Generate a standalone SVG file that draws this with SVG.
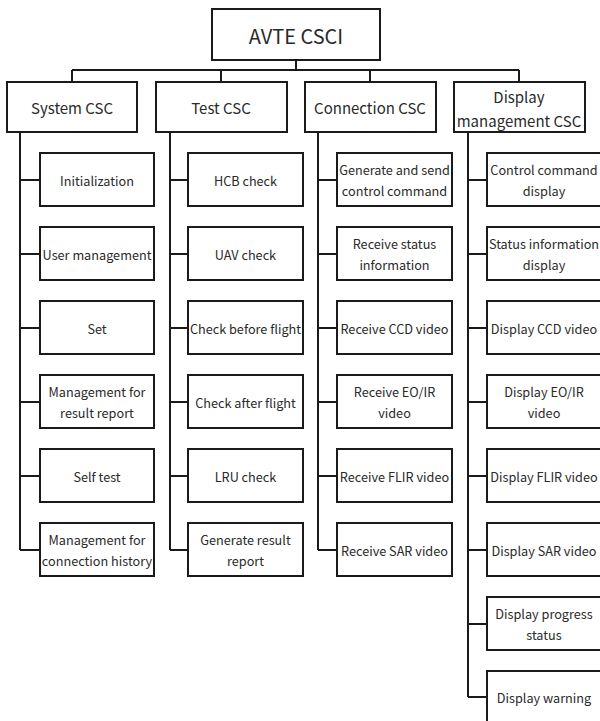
<svg xmlns="http://www.w3.org/2000/svg" width="600" height="721" viewBox="0 0 600 721">
<style>
  .box { fill: #ffffff; stroke: #1a1a1a; stroke-width: 2; }
  .ln { fill: none; stroke: #1a1a1a; stroke-width: 2; }
  text { font-family: "Noto Sans CJK KR", "Noto Sans", sans-serif; fill: #2a2a2a; text-anchor: middle; dominant-baseline: central; }
  .t0 { font-size: 20px; }
  .t1 { font-size: 15px; }
  .t2 { font-size: 12.7px; }
</style>
<rect width="600" height="721" fill="#ffffff"/>
<g id="connectors">
  <path class="ln" d="M296,60 V70 M72,70 H519 M72,70 V82 M221,70 V82 M370,70 V82 M519,70 V82"/>
  <path class="ln" d="M20,132 V550 M20,180 H40 M20,254 H40 M20,328 H40 M20,402 H40 M20,476 H40 M20,550 H40"/>
  <path class="ln" d="M170,132 V550 M170,180 H188 M170,254 H188 M170,328 H188 M170,402 H188 M170,476 H188 M170,550 H188"/>
  <path class="ln" d="M318,132 V550 M318,180 H337 M318,254 H337 M318,328 H337 M318,402 H337 M318,476 H337 M318,550 H337"/>
  <path class="ln" d="M468,132 V697 M468,180 H487 M468,254 H487 M468,328 H487 M468,402 H487 M468,476 H487 M468,550 H487 M468,624 H487 M468,697 H487"/>
</g>
<g id="root"><rect class="box" x="212" y="9" width="168" height="51"/><text class="t0" x="296" y="35">AVTE CSCI</text></g>
<g id="system-csc"><rect class="box" x="7" y="82" width="130" height="50"/><text class="t1" x="72" y="107">System CSC</text></g>
<g id="test-csc"><rect class="box" x="156" y="82" width="131" height="50"/><text class="t1" x="221" y="107">Test CSC</text></g>
<g id="connection-csc"><rect class="box" x="305" y="82" width="131" height="50"/><text class="t1" x="370" y="107">Connection CSC</text></g>
<g id="display-csc"><rect class="box" x="454" y="82" width="131" height="50"/><text class="t1" x="519" y="96">Display</text><text class="t1" x="519" y="120">management CSC</text></g>

<g id="s1"><rect class="box" x="40" y="153" width="114" height="53"/><text class="t2" x="97" y="180">Initialization</text></g>
<g id="s2"><rect class="box" x="40" y="227" width="114" height="53"/><text class="t2" x="97" y="254">User management</text></g>
<g id="s3"><rect class="box" x="40" y="301" width="114" height="53"/><text class="t2" x="97" y="328">Set</text></g>
<g id="s4"><rect class="box" x="40" y="375" width="114" height="53"/><text class="t2" x="97" y="391.5">Management for</text><text class="t2" x="97" y="412.5">result report</text></g>
<g id="s5"><rect class="box" x="40" y="449" width="114" height="53"/><text class="t2" x="97" y="476">Self test</text></g>
<g id="s6"><rect class="box" x="40" y="523" width="114" height="53"/><text class="t2" x="97" y="539.5">Management for</text><text class="t2" x="97" y="560.5">connection history</text></g>

<g id="t1"><rect class="box" x="188" y="153" width="115" height="53"/><text class="t2" x="245.5" y="180">HCB check</text></g>
<g id="t2"><rect class="box" x="188" y="227" width="115" height="53"/><text class="t2" x="245.5" y="254">UAV check</text></g>
<g id="t3"><rect class="box" x="188" y="301" width="115" height="53"/><text class="t2" x="245.5" y="328">Check before flight</text></g>
<g id="t4"><rect class="box" x="188" y="375" width="115" height="53"/><text class="t2" x="245.5" y="402">Check after flight</text></g>
<g id="t5"><rect class="box" x="188" y="449" width="115" height="53"/><text class="t2" x="245.5" y="476">LRU check</text></g>
<g id="t6"><rect class="box" x="188" y="523" width="115" height="53"/><text class="t2" x="245.5" y="539.5">Generate result</text><text class="t2" x="245.5" y="560.5">report</text></g>

<g id="c1"><rect class="box" x="337" y="153" width="115" height="53"/><text class="t2" x="394.5" y="169.5">Generate and send</text><text class="t2" x="394.5" y="190.5">control command</text></g>
<g id="c2"><rect class="box" x="337" y="227" width="115" height="53"/><text class="t2" x="394.5" y="243.5">Receive status</text><text class="t2" x="394.5" y="264.5">information</text></g>
<g id="c3"><rect class="box" x="337" y="301" width="115" height="53"/><text class="t2" x="394.5" y="328">Receive CCD video</text></g>
<g id="c4"><rect class="box" x="337" y="375" width="115" height="53"/><text class="t2" x="394.5" y="391.5">Receive EO/IR</text><text class="t2" x="394.5" y="412.5">video</text></g>
<g id="c5"><rect class="box" x="337" y="449" width="115" height="53"/><text class="t2" x="394.5" y="476">Receive FLIR video</text></g>
<g id="c6"><rect class="box" x="337" y="523" width="115" height="53"/><text class="t2" x="394.5" y="550">Receive SAR video</text></g>

<g id="d1"><rect class="box" x="487" y="153" width="115" height="53"/><text class="t2" x="544" y="169.5">Control command</text><text class="t2" x="544" y="190.5">display</text></g>
<g id="d2"><rect class="box" x="487" y="227" width="115" height="53"/><text class="t2" x="544" y="243.5">Status information</text><text class="t2" x="544" y="264.5">display</text></g>
<g id="d3"><rect class="box" x="487" y="301" width="115" height="53"/><text class="t2" x="544" y="328">Display CCD video</text></g>
<g id="d4"><rect class="box" x="487" y="375" width="115" height="53"/><text class="t2" x="544" y="391.5">Display EO/IR</text><text class="t2" x="544" y="412.5">video</text></g>
<g id="d5"><rect class="box" x="487" y="449" width="115" height="53"/><text class="t2" x="544" y="476">Display FLIR video</text></g>
<g id="d6"><rect class="box" x="487" y="523" width="115" height="53"/><text class="t2" x="544" y="550">Display SAR video</text></g>
<g id="d7"><rect class="box" x="487" y="597" width="115" height="53"/><text class="t2" x="544" y="613.5">Display progress</text><text class="t2" x="544" y="634.5">status</text></g>
<g id="d8"><rect class="box" x="487" y="671" width="115" height="53"/><text class="t2" x="544" y="697">Display warning</text></g>
</svg>
